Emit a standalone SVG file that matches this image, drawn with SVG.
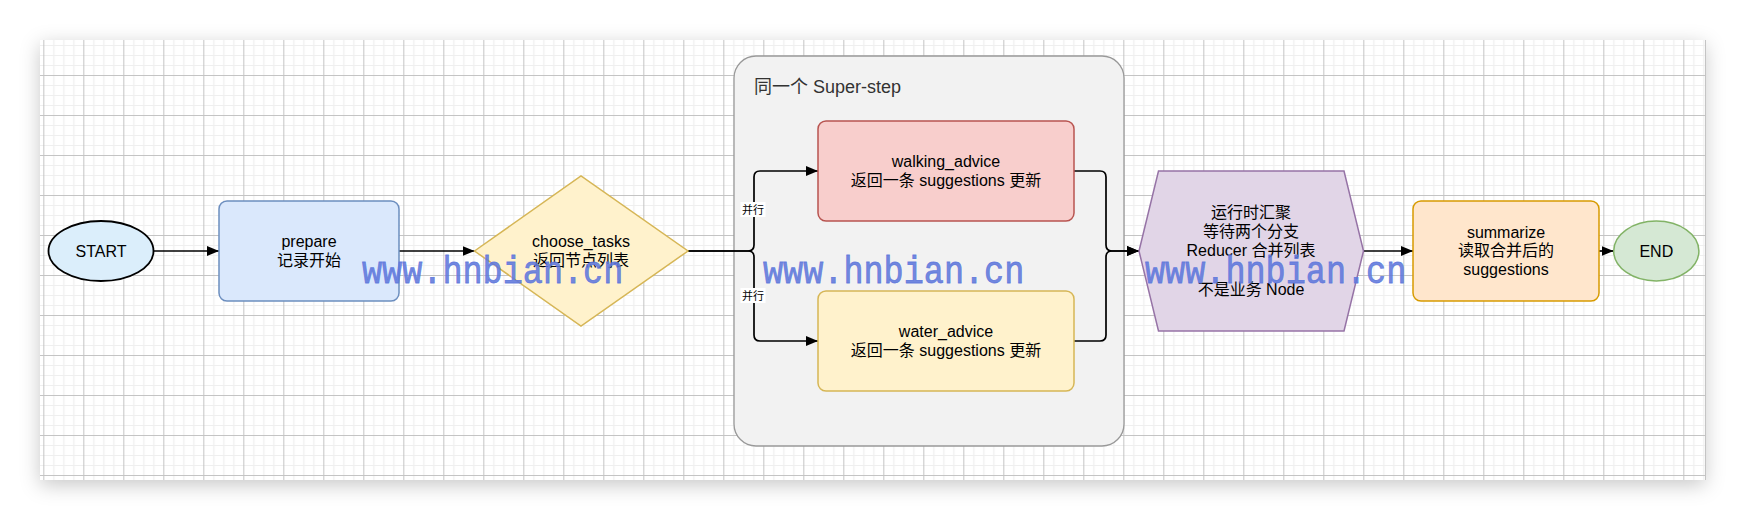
<svg xmlns="http://www.w3.org/2000/svg" width="1746" height="520" viewBox="0 0 1746 520">
  <defs>
    <style>
      .t { font-family: "Liberation Sans", "Noto Sans CJK SC", sans-serif; font-size: 16px; fill: #000; text-anchor: middle; }
      .lbl { font-family: "Liberation Sans", "Noto Sans CJK SC", sans-serif; font-size: 11px; fill: #000; text-anchor: middle; }
      .edge { fill: none; stroke: #000; stroke-width: 1.7; stroke-linejoin: round; }
      .node { stroke-width: 1.5; }
      .wm { font-family: "Liberation Mono", "DejaVu Sans Mono", monospace; font-size: 33.5px; fill: #5f78dc; fill-opacity: 0.9; stroke: #5f78dc; stroke-opacity: 0.9; stroke-width: 0.7; }
    </style>
    <pattern id="grid" patternUnits="userSpaceOnUse" x="3.33" y="35" width="40" height="40">
      <rect width="40" height="40" fill="#ffffff"/>
      <path d="M10.5 0V40M20.5 0V40M30.5 0V40M0 10.5H40M0 20.5H40M0 30.5H40" stroke="#efefef" stroke-width="1.2"/>
      <path d="M0.5 0V40M0 0.5H40" stroke="#c4c4c4" stroke-width="1"/>
    </pattern>
    <filter id="shadow" x="-10%" y="-20%" width="120%" height="150%">
      <feDropShadow dx="0" dy="5" stdDeviation="10" flood-color="#000" flood-opacity="0.22"/>
    </filter>
    <marker id="arrow" markerUnits="userSpaceOnUse" markerWidth="12" markerHeight="10" refX="12" refY="5" orient="auto">
      <path d="M0,0 L12,5 L0,10 Z" fill="#000"/>
    </marker>
  </defs>

  <rect width="1746" height="520" fill="#ffffff"/>
  <rect x="40" y="40" width="1665" height="440" fill="#ffffff" filter="url(#shadow)"/>
  <rect x="40" y="40" width="1665" height="440" fill="url(#grid)"/>
  <line x1="1705.5" y1="40" x2="1705.5" y2="480" stroke="#c4c4c4" stroke-width="1"/>

  <g id="superstep">
    <rect x="734" y="56" width="390" height="390" rx="22" ry="22" fill="#f2f2f2" stroke="#999999" stroke-width="1.3"/>
    <text x="754" y="92.5" style="font-family: 'Liberation Sans', 'Noto Sans CJK SC', sans-serif; font-size: 18px; fill: #333333;">同一个 Super-step</text>
  </g>

  <g id="connectors">
    <path class="edge" d="M153.5,251 H219" marker-end="url(#arrow)"/>
    <path class="edge" d="M399,251 H474.5" marker-end="url(#arrow)"/>
    <path class="edge" d="M688,251 H748 Q754,251 754,245 V177 Q754,171 760,171 H818" marker-end="url(#arrow)"/>
    <path class="edge" d="M688,251 H748 Q754,251 754,257 V335 Q754,341 760,341 H818" marker-end="url(#arrow)"/>
    <path class="edge" d="M1074,171 H1100 Q1106,171 1106,177 V245 Q1106,251 1112,251 H1139" marker-end="url(#arrow)"/>
    <path class="edge" d="M1074,341 H1100 Q1106,341 1106,335 V257 Q1106,251 1112,251 H1139" marker-end="url(#arrow)"/>
    <path class="edge" d="M1363.5,251 H1413" marker-end="url(#arrow)"/>
    <path class="edge" d="M1599,251 H1613.5" marker-end="url(#arrow)"/>
    <rect x="740.5" y="202" width="25" height="15" fill="#ffffff"/>
    <text class="lbl" x="753" y="214">并行</text>
    <rect x="740.5" y="288" width="25" height="15" fill="#ffffff"/>
    <text class="lbl" x="753" y="300">并行</text>
  </g>

  <g id="start">
    <ellipse cx="101" cy="251" rx="52.5" ry="30" fill="#dbeefb" stroke="#000" stroke-width="1.8"/>
    <text class="t" x="101" y="256.5">START</text>
  </g>

  <g id="prepare">
    <rect class="node" x="219" y="201" width="180" height="100" rx="8" fill="#dae8fc" stroke="#6c8ebf"/>
    <text class="t" x="309" y="247.3">prepare</text>
    <text class="t" x="309" y="265.7">记录开始</text>
  </g>

  <g id="choose_tasks">
    <polygon class="node" points="474.5,251 581,176 688,251 581,326" fill="#fff2cc" stroke="#d6b656"/>
    <text class="t" x="581" y="247.3">choose_tasks</text>
    <text class="t" x="581" y="265.7">返回节点列表</text>
  </g>

  <g id="walking_advice">
    <rect class="node" x="818" y="121" width="256" height="100" rx="8" fill="#f8cecc" stroke="#b85450"/>
    <text class="t" x="946" y="167.3">walking_advice</text>
    <text class="t" x="946" y="185.7">返回一条 suggestions 更新</text>
  </g>

  <g id="water_advice">
    <rect class="node" x="818" y="291" width="256" height="100" rx="8" fill="#fff2cc" stroke="#d6b656"/>
    <text class="t" x="946" y="337.3">water_advice</text>
    <text class="t" x="946" y="355.7">返回一条 suggestions 更新</text>
  </g>

  <g id="reducer">
    <polygon class="node" points="1139,251 1158.5,171 1344,171 1363.5,251 1344,331 1158.5,331" fill="#e1d5e7" stroke="#9673a6"/>
    <text class="t" x="1251" y="218">运行时汇聚</text>
    <text class="t" x="1251" y="237.2">等待两个分支</text>
    <text class="t" x="1251" y="256.4">Reducer 合并列表</text>
    <text class="t" x="1251" y="294.8">不是业务 Node</text>
  </g>

  <g id="summarize">
    <rect class="node" x="1413" y="201" width="186" height="100" rx="8" fill="#ffe6cc" stroke="#d79b00"/>
    <text class="t" x="1506" y="237.6">summarize</text>
    <text class="t" x="1506" y="256.4">读取合并后的</text>
    <text class="t" x="1506" y="275.2">suggestions</text>
  </g>

  <g id="end">
    <ellipse class="node" cx="1656.3" cy="251" rx="42.6" ry="30" fill="#d5e8d4" stroke="#82b366"/>
    <text class="t" x="1656.3" y="256.5">END</text>
  </g>

  <g id="watermarks">
    <text class="wm" transform="translate(362,283) scale(1,1.15)">www.hnbian.cn</text>
    <text class="wm" transform="translate(763,283) scale(1,1.15)">www.hnbian.cn</text>
    <text class="wm" transform="translate(1145,283) scale(1,1.15)">www.hnbian.cn</text>
  </g>
</svg>
